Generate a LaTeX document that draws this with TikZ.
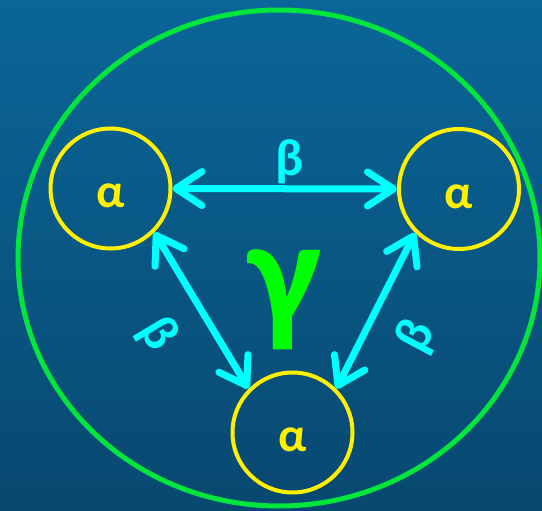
\documentclass[tikz,border=0pt]{standalone}
\usepackage{fontspec}
\setmainfont{Carlito}
\usetikzlibrary{arrows.meta}
\definecolor{seatop}{RGB}{10,102,152}
\definecolor{seabot}{RGB}{8,72,112}
\definecolor{ringgreen}{RGB}{0,230,60}
\definecolor{gammagreen}{RGB}{0,255,0}
\definecolor{ringyellow}{RGB}{255,240,0}
\definecolor{linkcyan}{RGB}{0,255,255}
\tikzset{
 phase/.style={circle,draw=ringyellow,line width=4pt,minimum size=120pt,inner sep=0pt,
   text=ringyellow,font=\fontsize{48}{48}\selectfont\bfseries,text height=38pt,text depth=0pt},
 link/.style={linkcyan,line width=7pt,
   {Straight Barb[length=26pt,width=34pt,round]}-{Straight Barb[length=26pt,width=34pt,round]}},
 blabel/.style={text=linkcyan,font=\fontsize{52}{52}\selectfont\bfseries,inner sep=0pt}
}
\begin{document}
\begin{tikzpicture}[x=1pt,y=-1pt]
 \shade[top color=seatop,bottom color=seabot] (0,0) rectangle (542,511);
 \useasboundingbox (0,0) rectangle (542,511);
 \draw [ringgreen,line width=5pt] (279,258) ellipse [x radius=261,y radius=248];
 \node[phase] (alphaL) at (110.5,188.5) {α};
 \node[phase] (alphaR) at (459,189) {α};
 \node[phase] (alphaB) at (292.5,432.5) {α};
 \node[text=gammagreen,font=\fontsize{155}{155}\selectfont\bfseries,inner sep=0pt] (gamma) at (285,300) {γ};
 \draw [link] (alphaL.east) -- (alphaR.west);
 \draw [link] (alphaL.south east) -- (alphaB.north west);
 \draw [link] (alphaR.south west) -- (alphaB.north east);
 \node[blabel] (betaT) at (290,162) {β};
 \node[blabel,rotate=-59] (betaL) at (158,335) {β};
 \node[blabel,rotate=62] (betaR) at (417,337) {β};
\end{tikzpicture}
\end{document}
